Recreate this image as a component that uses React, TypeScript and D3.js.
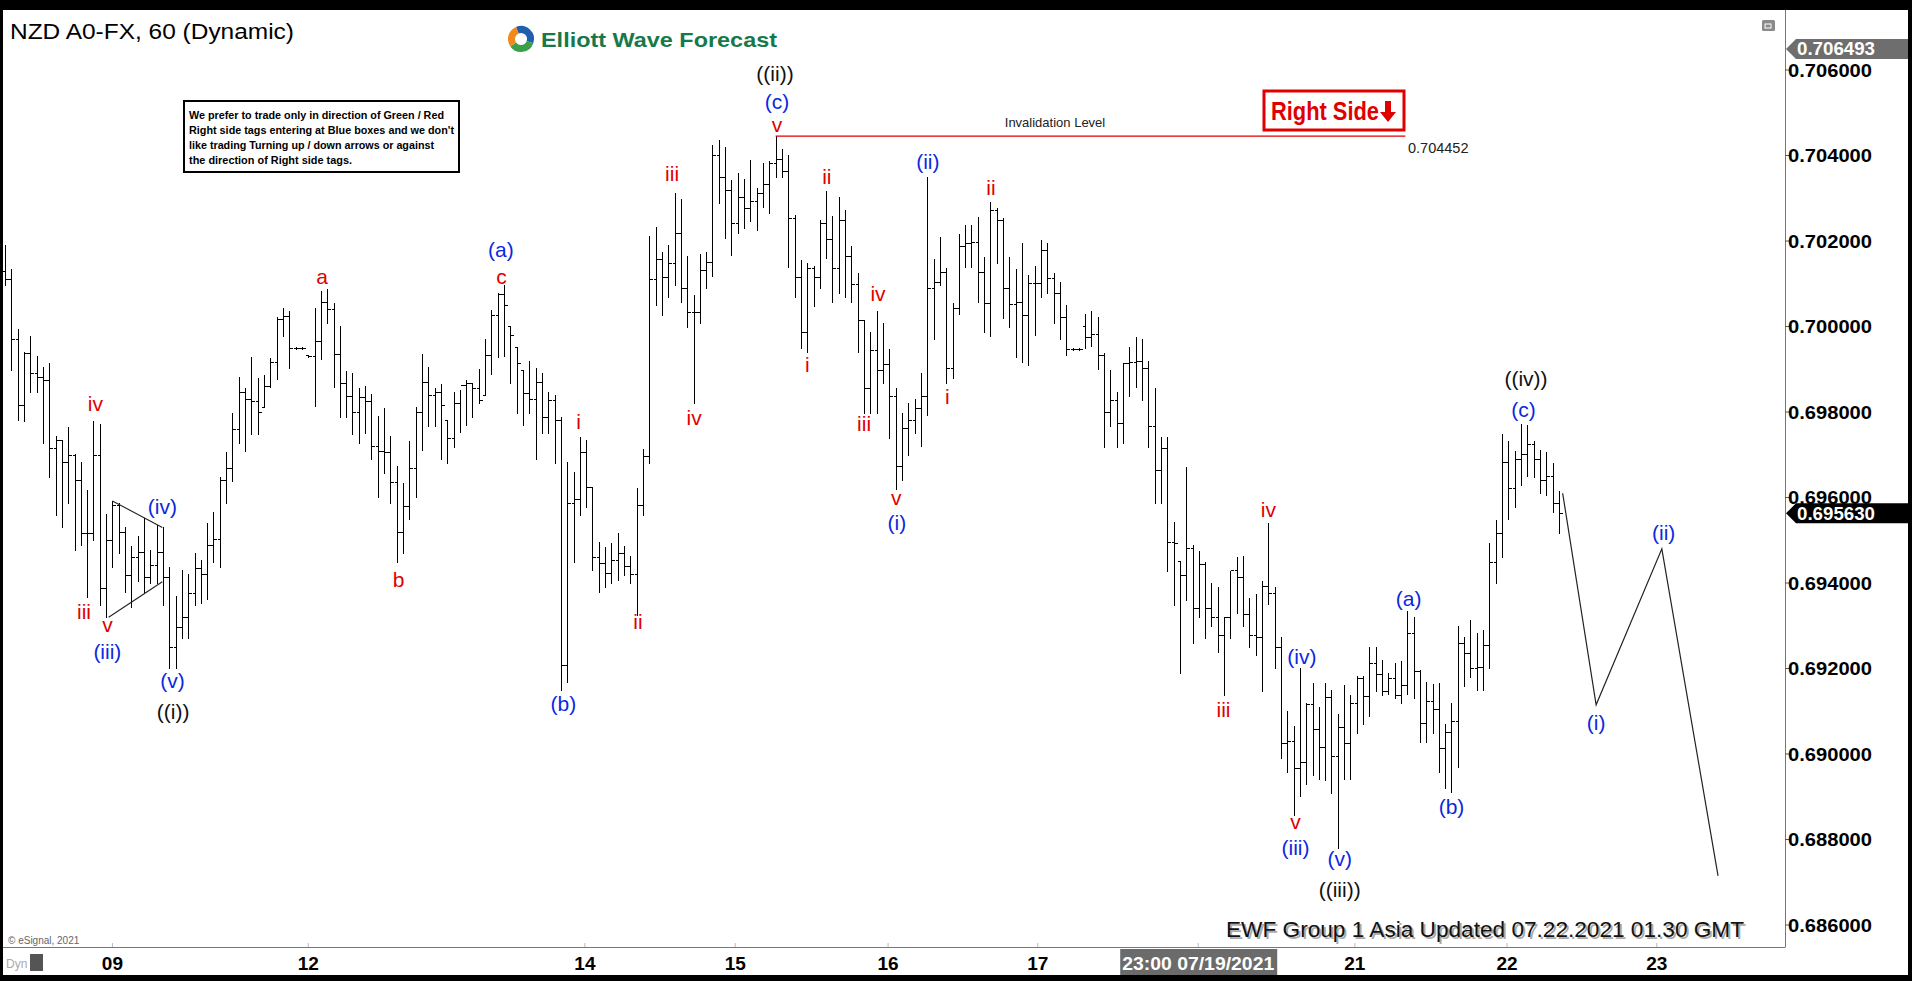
import React, { useEffect, useRef } from 'react';
import * as d3 from 'd3';

// hourly OHLC bars, NZDUSD
const highs = [
  0.70191, 0.70135, 0.69994, 0.69940, 0.69978, 0.69931, 0.69905, 0.69915, 0.69744, 0.69734,
  0.69765, 0.69702, 0.69683, 0.69618, 0.69779, 0.69772, 0.69561, 0.69592, 0.69587, 0.69531,
  0.69487, 0.69510, 0.69552, 0.69477, 0.69536, 0.69531, 0.69437, 0.69370, 0.69430, 0.69421,
  0.69470, 0.69454, 0.69540, 0.69566, 0.69648, 0.69707, 0.69798, 0.69882, 0.69856, 0.69929,
  0.69880, 0.69887, 0.69926, 0.70022, 0.70043, 0.70036, 0.69953, 0.69953, 0.69934, 0.70043,
  0.70083, 0.70088, 0.70055, 0.70001, 0.69896, 0.69891, 0.69856, 0.69861, 0.69842, 0.69791,
  0.69809, 0.69744, 0.69674, 0.69634, 0.69732, 0.69812, 0.69936, 0.69905, 0.69856, 0.69866,
  0.69781, 0.69847, 0.69851, 0.69875, 0.69868, 0.69901, 0.69971, 0.70039, 0.70078, 0.70097,
  0.70001, 0.69952, 0.69898, 0.69919, 0.69903, 0.69891, 0.69847, 0.69840, 0.69788, 0.69683,
  0.69660, 0.69742, 0.69734, 0.69625, 0.69496, 0.69484, 0.69494, 0.69517, 0.69487, 0.69463,
  0.69622, 0.69714, 0.70212, 0.70233, 0.70174, 0.70191, 0.70312, 0.70298, 0.70165, 0.70074,
  0.70170, 0.70174, 0.70425, 0.70436, 0.70420, 0.70343, 0.70359, 0.70345, 0.70390, 0.70324,
  0.70382, 0.70387, 0.70446, 0.70415, 0.70401, 0.70261, 0.70156, 0.70149, 0.70142, 0.70249,
  0.70317, 0.70259, 0.70303, 0.70273, 0.70188, 0.70125, 0.70015, 0.69987, 0.70036, 0.70008,
  0.69947, 0.69856, 0.69798, 0.69821, 0.69830, 0.69891, 0.70350, 0.70158, 0.70209, 0.70137,
  0.70055, 0.70216, 0.70237, 0.70237, 0.70256, 0.70163, 0.70291, 0.70277, 0.70254, 0.70163,
  0.70135, 0.70195, 0.70121, 0.70142, 0.70202, 0.70195, 0.70125, 0.70104, 0.70050, 0.69950,
  0.69950, 0.70029, 0.70036, 0.70022, 0.69938, 0.69898, 0.69847, 0.69915, 0.69952, 0.69976,
  0.69971, 0.69919, 0.69856, 0.69742, 0.69742, 0.69543, 0.69452, 0.69671, 0.69489, 0.69475,
  0.69449, 0.69400, 0.69391, 0.69321, 0.69428, 0.69461, 0.69463, 0.69365, 0.69374, 0.69405,
  0.69540, 0.69391, 0.69274, 0.69101, 0.69066, 0.69201, 0.69119, 0.69166, 0.69110, 0.69166,
  0.69150, 0.69094, 0.69162, 0.69138, 0.69183, 0.69183, 0.69250, 0.69250, 0.69220, 0.69190,
  0.69213, 0.69218, 0.69335, 0.69321, 0.69197, 0.69169, 0.69164, 0.69166, 0.69070, 0.69119,
  0.69300, 0.69274, 0.69314, 0.69283, 0.69290, 0.69494, 0.69547, 0.69749, 0.69732, 0.69709,
  0.69772, 0.69770, 0.69732, 0.69711, 0.69707, 0.69681, 0.69615,
];

const lows = [
  0.70097, 0.69898, 0.69781, 0.69779, 0.69847, 0.69847, 0.69727, 0.69648, 0.69559, 0.69531,
  0.69587, 0.69477, 0.69489, 0.69367, 0.69501, 0.69349, 0.69320, 0.69437, 0.69470, 0.69379,
  0.69344, 0.69405, 0.69379, 0.69400, 0.69400, 0.69349, 0.69201, 0.69201, 0.69271, 0.69271,
  0.69349, 0.69353, 0.69363, 0.69449, 0.69437, 0.69587, 0.69639, 0.69728, 0.69709, 0.69749,
  0.69749, 0.69812, 0.69859, 0.69877, 0.69978, 0.69903, 0.69947, 0.69947, 0.69928, 0.69814,
  0.69924, 0.70008, 0.69859, 0.69788, 0.69788, 0.69749, 0.69728, 0.69751, 0.69690, 0.69601,
  0.69657, 0.69587, 0.69449, 0.69470, 0.69550, 0.69601, 0.69711, 0.69767, 0.69767, 0.69690,
  0.69681, 0.69718, 0.69753, 0.69770, 0.69788, 0.69821, 0.69840, 0.69889, 0.69929, 0.69931,
  0.69868, 0.69798, 0.69770, 0.69798, 0.69690, 0.69751, 0.69751, 0.69681, 0.69150, 0.69169,
  0.69449, 0.69559, 0.69578, 0.69430, 0.69379, 0.69391, 0.69400, 0.69407, 0.69419, 0.69400,
  0.69325, 0.69559, 0.69681, 0.70050, 0.70027, 0.70069, 0.70097, 0.70057, 0.69999, 0.69821,
  0.70008, 0.70090, 0.70118, 0.70289, 0.70207, 0.70167, 0.70219, 0.70230, 0.70247, 0.70226,
  0.70280, 0.70265, 0.70350, 0.70350, 0.70139, 0.70069, 0.69950, 0.69940, 0.70048, 0.70090,
  0.70160, 0.70057, 0.70078, 0.70069, 0.70057, 0.69940, 0.69798, 0.69798, 0.69798, 0.69868,
  0.69739, 0.69620, 0.69641, 0.69699, 0.69751, 0.69721, 0.69793, 0.69971, 0.70097, 0.69868,
  0.69880, 0.70029, 0.70139, 0.70139, 0.70057, 0.69987, 0.69978, 0.70149, 0.70020, 0.69999,
  0.69929, 0.69917, 0.69910, 0.69980, 0.70069, 0.70078, 0.70008, 0.69971, 0.69933, 0.69944,
  0.69944, 0.69950, 0.69954, 0.69901, 0.69718, 0.69767, 0.69718, 0.69728, 0.69838, 0.69859,
  0.69828, 0.69718, 0.69587, 0.69587, 0.69428, 0.69349, 0.69190, 0.69360, 0.69260, 0.69321,
  0.69271, 0.69300, 0.69239, 0.69138, 0.69271, 0.69330, 0.69300, 0.69250, 0.69232, 0.69148,
  0.69351, 0.69201, 0.68991, 0.68958, 0.68857, 0.68902, 0.68930, 0.68951, 0.68942, 0.68939,
  0.68909, 0.68780, 0.68942, 0.68942, 0.69049, 0.69070, 0.69089, 0.69148, 0.69138, 0.69140,
  0.69131, 0.69119, 0.69140, 0.69131, 0.69028, 0.69028, 0.69049, 0.68958, 0.68921, 0.68911,
  0.68970, 0.69159, 0.69180, 0.69150, 0.69150, 0.69201, 0.69400, 0.69461, 0.69550, 0.69578,
  0.69629, 0.69650, 0.69648, 0.69611, 0.69606, 0.69566, 0.69517,
];

const opens = [
  0.70130, 0.70110, 0.69971, 0.69816, 0.69938, 0.69891, 0.69882, 0.69875, 0.69716, 0.69734,
  0.69683, 0.69700, 0.69641, 0.69517, 0.69517, 0.69700, 0.69388, 0.69501, 0.69583, 0.69519,
  0.69419, 0.69461, 0.69473, 0.69414, 0.69442, 0.69473, 0.69414, 0.69250, 0.69297, 0.69321,
  0.69377, 0.69435, 0.69420, 0.69489, 0.69503, 0.69641, 0.69669, 0.69760, 0.69847, 0.69830,
  0.69826, 0.69812, 0.69861, 0.69917, 0.70018, 0.70025, 0.69950, 0.69950, 0.69934, 0.69931,
  0.69966, 0.70057, 0.70040, 0.69936, 0.69868, 0.69838, 0.69800, 0.69835, 0.69826, 0.69721,
  0.69709, 0.69707, 0.69636, 0.69519, 0.69580, 0.69669, 0.69800, 0.69870, 0.69840, 0.69847,
  0.69781, 0.69739, 0.69821, 0.69863, 0.69868, 0.69856, 0.69840, 0.69933, 0.70027, 0.70076,
  0.70001, 0.69952, 0.69898, 0.69845, 0.69830, 0.69870, 0.69788, 0.69828, 0.69781, 0.69208,
  0.69587, 0.69597, 0.69707, 0.69625, 0.69461, 0.69447, 0.69424, 0.69454, 0.69470, 0.69440,
  0.69421, 0.69583, 0.69697, 0.70111, 0.70158, 0.70116, 0.70149, 0.70219, 0.70090, 0.70034,
  0.70034, 0.70132, 0.70151, 0.70401, 0.70350, 0.70319, 0.70242, 0.70303, 0.70277, 0.70294,
  0.70312, 0.70333, 0.70382, 0.70392, 0.70364, 0.70254, 0.70116, 0.69987, 0.70137, 0.70116,
  0.70242, 0.70205, 0.70137, 0.70249, 0.70165, 0.70099, 0.70015, 0.69856, 0.69945, 0.69898,
  0.69912, 0.69837, 0.69674, 0.69763, 0.69781, 0.69809, 0.69837, 0.70090, 0.70104, 0.70128,
  0.69903, 0.70043, 0.70188, 0.70195, 0.70198, 0.70128, 0.70055, 0.70273, 0.70249, 0.70090,
  0.70053, 0.70057, 0.70027, 0.70102, 0.70102, 0.70179, 0.70113, 0.70078, 0.70022, 0.69947,
  0.69947, 0.70001, 0.69976, 0.69982, 0.69933, 0.69800, 0.69828, 0.69774, 0.69915, 0.69917,
  0.69919, 0.69903, 0.69767, 0.69664, 0.69716, 0.69496, 0.69452, 0.69419, 0.69482, 0.69342,
  0.69445, 0.69342, 0.69321, 0.69278, 0.69321, 0.69431, 0.69414, 0.69328, 0.69278, 0.69274,
  0.69393, 0.69377, 0.69250, 0.69026, 0.69030, 0.68967, 0.68981, 0.69117, 0.69059, 0.69016,
  0.69133, 0.68995, 0.69063, 0.69026, 0.69119, 0.69178, 0.69136, 0.69213, 0.69187, 0.69147,
  0.69178, 0.69138, 0.69161, 0.69283, 0.69194, 0.69073, 0.69124, 0.69105, 0.69014, 0.69052,
  0.69077, 0.69260, 0.69236, 0.69201, 0.69204, 0.69255, 0.69449, 0.69517, 0.69683, 0.69622,
  0.69690, 0.69702, 0.69725, 0.69690, 0.69641, 0.69650, 0.69587,
];

const closes = [
  0.70110, 0.69971, 0.69816, 0.69938, 0.69891, 0.69882, 0.69875, 0.69716, 0.69734, 0.69683,
  0.69700, 0.69641, 0.69517, 0.69517, 0.69700, 0.69388, 0.69501, 0.69583, 0.69519, 0.69419,
  0.69461, 0.69473, 0.69414, 0.69442, 0.69473, 0.69414, 0.69250, 0.69297, 0.69321, 0.69377,
  0.69435, 0.69420, 0.69489, 0.69503, 0.69641, 0.69669, 0.69760, 0.69847, 0.69830, 0.69826,
  0.69800, 0.69861, 0.69917, 0.70018, 0.70025, 0.69950, 0.69950, 0.69950, 0.69931, 0.69966,
  0.70057, 0.70040, 0.69936, 0.69868, 0.69838, 0.69800, 0.69835, 0.69826, 0.69721, 0.69709,
  0.69707, 0.69636, 0.69519, 0.69580, 0.69669, 0.69800, 0.69870, 0.69840, 0.69847, 0.69816,
  0.69739, 0.69821, 0.69863, 0.69868, 0.69856, 0.69828, 0.69933, 0.70027, 0.70076, 0.70050,
  0.69980, 0.69915, 0.69845, 0.69830, 0.69870, 0.69788, 0.69828, 0.69781, 0.69208, 0.69587,
  0.69597, 0.69707, 0.69625, 0.69461, 0.69447, 0.69424, 0.69454, 0.69470, 0.69440, 0.69421,
  0.69583, 0.69697, 0.70111, 0.70158, 0.70116, 0.70149, 0.70219, 0.70090, 0.70034, 0.70034,
  0.70132, 0.70151, 0.70401, 0.70350, 0.70319, 0.70242, 0.70303, 0.70277, 0.70294, 0.70312,
  0.70333, 0.70382, 0.70392, 0.70364, 0.70254, 0.70116, 0.69987, 0.70137, 0.70116, 0.70242,
  0.70205, 0.70137, 0.70249, 0.70165, 0.70099, 0.70015, 0.69856, 0.69945, 0.69898, 0.69912,
  0.69837, 0.69674, 0.69763, 0.69781, 0.69809, 0.69837, 0.70090, 0.70104, 0.70128, 0.69903,
  0.70043, 0.70188, 0.70195, 0.70198, 0.70128, 0.70055, 0.70273, 0.70249, 0.70090, 0.70053,
  0.70057, 0.70027, 0.70102, 0.70102, 0.70179, 0.70113, 0.70078, 0.70022, 0.69947, 0.69947,
  0.69947, 0.69976, 0.69982, 0.69933, 0.69800, 0.69828, 0.69774, 0.69915, 0.69917, 0.69919,
  0.69903, 0.69767, 0.69664, 0.69716, 0.69496, 0.69494, 0.69419, 0.69482, 0.69342, 0.69445,
  0.69342, 0.69321, 0.69278, 0.69321, 0.69431, 0.69414, 0.69328, 0.69278, 0.69274, 0.69393,
  0.69377, 0.69250, 0.69026, 0.69030, 0.68967, 0.68981, 0.69117, 0.69059, 0.69016, 0.69133,
  0.68995, 0.69063, 0.69026, 0.69119, 0.69178, 0.69136, 0.69213, 0.69187, 0.69147, 0.69178,
  0.69138, 0.69161, 0.69283, 0.69194, 0.69073, 0.69124, 0.69105, 0.69014, 0.69052, 0.69077,
  0.69260, 0.69236, 0.69201, 0.69204, 0.69255, 0.69449, 0.69517, 0.69683, 0.69622, 0.69690,
  0.69702, 0.69725, 0.69690, 0.69641, 0.69650, 0.69587, 0.69563,
];

// date labels on the bar index axis
const dateTicks = [
  { i: 17, label: '09' },
  { i: 48, label: '12' },
  { i: 91.8, label: '14' },
  { i: 115.6, label: '15' },
  { i: 139.8, label: '16' },
  { i: 163.5, label: '17' },
  { i: 188.9, label: '23:00 07/19/2021', boxed: true },
  { i: 213.7, label: '21' },
  { i: 237.8, label: '22' },
  { i: 261.5, label: '23' },
];

const priceTicks = [0.686, 0.688, 0.69, 0.692, 0.694, 0.696, 0.698, 0.7, 0.702, 0.704, 0.706];

const lastPrice = 0.69563;
const topPrice = 0.706493;
const invalidation = { price: 0.704452, from: 122, to: 221.7 };

// projected path after the last bar
const projIdx = [246.6, 251.9, 262.3, 271.2];
const projPrice = [0.6961, 0.69115, 0.6948, 0.68715];

// triangle lines (index, price)
const triangle = [
  [[17, 0.69592], [24.9, 0.6953]],
  [[16.4, 0.6932], [24.9, 0.69403]],
];

// wave labels: r = red, b = blue, k = black
const waveLabels: { i: number; p: number; t: string; c: string }[] = [
  { i: 14.3, p: 0.69819, t: 'iv', c: 'r' },
  { i: 12.5, p: 0.69334, t: 'iii', c: 'r' },
  { i: 16.2, p: 0.69303, t: 'v', c: 'r' },
  { i: 16.2, p: 0.6924, t: '(iii)', c: 'b' },
  { i: 24.9, p: 0.6958, t: '(iv)', c: 'b' },
  { i: 26.5, p: 0.69172, t: '(v)', c: 'b' },
  { i: 26.6, p: 0.69099, t: '((i))', c: 'k' },
  { i: 50.2, p: 0.70116, t: 'a', c: 'r' },
  { i: 62.3, p: 0.69409, t: 'b', c: 'r' },
  { i: 78.5, p: 0.70179, t: '(a)', c: 'b' },
  { i: 78.6, p: 0.70118, t: 'c', c: 'r' },
  { i: 90.8, p: 0.69777, t: 'i', c: 'r' },
  { i: 100.2, p: 0.69309, t: 'ii', c: 'r' },
  { i: 88.4, p: 0.69117, t: '(b)', c: 'b' },
  { i: 105.6, p: 0.70357, t: 'iii', c: 'r' },
  { i: 109.1, p: 0.69788, t: 'iv', c: 'r' },
  { i: 121.9, p: 0.70592, t: '((ii))', c: 'k' },
  { i: 122.2, p: 0.70527, t: '(c)', c: 'b' },
  { i: 122.2, p: 0.70472, t: 'v', c: 'r' },
  { i: 127, p: 0.6991, t: 'i', c: 'r' },
  { i: 130.1, p: 0.7035, t: 'ii', c: 'r' },
  { i: 138.2, p: 0.70078, t: 'iv', c: 'r' },
  { i: 136, p: 0.69772, t: 'iii', c: 'r' },
  { i: 141.1, p: 0.69601, t: 'v', c: 'r' },
  { i: 141.2, p: 0.69541, t: '(i)', c: 'b' },
  { i: 146.1, p: 0.70385, t: '(ii)', c: 'b' },
  { i: 149.2, p: 0.69837, t: 'i', c: 'r' },
  { i: 156.1, p: 0.70324, t: 'ii', c: 'r' },
  { i: 192.9, p: 0.69105, t: 'iii', c: 'r' },
  { i: 200, p: 0.69571, t: 'iv', c: 'r' },
  { i: 205.3, p: 0.69229, t: '(iv)', c: 'b' },
  { i: 204.3, p: 0.68843, t: 'v', c: 'r' },
  { i: 204.3, p: 0.68782, t: '(iii)', c: 'b' },
  { i: 211.3, p: 0.68756, t: '(v)', c: 'b' },
  { i: 211.3, p: 0.68682, t: '((iii))', c: 'k' },
  { i: 222.2, p: 0.69363, t: '(a)', c: 'b' },
  { i: 229, p: 0.68878, t: '(b)', c: 'b' },
  { i: 240.8, p: 0.69879, t: '((iv))', c: 'k' },
  { i: 240.4, p: 0.69806, t: '(c)', c: 'b' },
  { i: 251.9, p: 0.69073, t: '(i)', c: 'b' },
  { i: 262.6, p: 0.69519, t: '(ii)', c: 'b' },
];

const noteLines = [
  'We prefer to trade only in direction of Green / Red',
  "Right side tags entering at Blue boxes and we don't",
  'like trading Turning up / down arrows or against',
  'the direction of Right side tags.',
];

const FONT = "'Liberation Sans', Arial, sans-serif";
const RED = '#e00000';
const BLUE = '#0b28e0';

const App: React.FC = () => {
  const svgRef = useRef<SVGSVGElement>(null);

  useEffect(() => {
    if (!svgRef.current) return;
    document.body.style.margin = '0';
    document.body.style.overflow = 'hidden';

    const svg = d3.select(svgRef.current);
    svg.selectAll('*').remove();

    const W = 1912;
    const H = 981;
    const plotRight = 1785;
    const plotBottom = 947;

    const x = d3.scaleLinear().domain([-0.8, 281.8]).range([0, plotRight]);
    const y = d3.scaleLinear().domain([0.686, 0.706]).range([925, 70]);

    // frame
    svg.append('rect').attr('width', W).attr('height', H).attr('fill', '#000');
    svg.append('rect').attr('x', 3).attr('y', 10).attr('width', 1905).attr('height', 965).attr('fill', '#fff');

    svg.append('defs').append('clipPath').attr('id', 'plotClip')
      .append('rect').attr('x', 3).attr('y', 10).attr('width', plotRight - 3).attr('height', plotBottom - 10);

    // plot borders
    svg.append('line').attr('x1', plotRight + 0.5).attr('x2', plotRight + 0.5).attr('y1', 10).attr('y2', plotBottom)
      .attr('stroke', '#777').attr('stroke-width', 1);
    svg.append('line').attr('x1', 3).attr('x2', plotRight + 0.5).attr('y1', plotBottom + 0.5).attr('y2', plotBottom + 0.5)
      .attr('stroke', '#777').attr('stroke-width', 1);

    const g = svg.append('g').attr('clip-path', 'url(#plotClip)');

    // OHLC bars
    const bars = g.append('g').attr('stroke', '#000').attr('stroke-width', 1.2).attr('shape-rendering', 'crispEdges');
    highs.forEach((hi, i) => {
      const bx = Math.round(x(i)) + 0.5;
      bars.append('line').attr('x1', bx).attr('x2', bx).attr('y1', y(hi)).attr('y2', y(lows[i]) + 1);
      bars.append('line').attr('x1', bx - 3).attr('x2', bx).attr('y1', Math.round(y(opens[i])) + 0.5).attr('y2', Math.round(y(opens[i])) + 0.5);
      bars.append('line').attr('x1', bx).attr('x2', bx + 3).attr('y1', Math.round(y(closes[i])) + 0.5).attr('y2', Math.round(y(closes[i])) + 0.5);
    });

    // triangle
    triangle.forEach(seg => {
      g.append('line')
        .attr('x1', x(seg[0][0])).attr('y1', y(seg[0][1]))
        .attr('x2', x(seg[1][0])).attr('y2', y(seg[1][1]))
        .attr('stroke', '#222').attr('stroke-width', 1.1);
    });

    // projection
    const proj = projIdx.map((v, k) => [v, projPrice[k]] as [number, number]);
    g.append('path')
      .attr('d', d3.line<[number, number]>().x(d => x(d[0])).y(d => y(d[1]))(proj) || '')
      .attr('fill', 'none').attr('stroke', '#222').attr('stroke-width', 1.2);

    // invalidation level
    g.append('line')
      .attr('x1', x(invalidation.from)).attr('x2', x(invalidation.to))
      .attr('y1', y(invalidation.price)).attr('y2', y(invalidation.price))
      .attr('stroke', RED).attr('stroke-width', 1.2);
    g.append('text')
      .attr('x', 1055).attr('y', y(invalidation.price) - 9)
      .attr('text-anchor', 'middle').style('font-family', FONT).style('font-size', '13px').attr('fill', '#222')
      .text('Invalidation Level');
    g.append('text')
      .attr('x', 1408).attr('y', y(invalidation.price) + 17)
      .style('font-family', FONT).style('font-size', '14.5px').attr('fill', '#222')
      .text(invalidation.price.toFixed(6));

    // wave labels
    const colorOf: Record<string, string> = { r: RED, b: BLUE, k: '#111' };
    waveLabels.forEach(l => {
      g.append('text')
        .attr('x', x(l.i)).attr('y', y(l.p))
        .attr('text-anchor', 'middle').attr('dominant-baseline', 'central')
        .style('font-family', FONT).style('font-size', '21px')
        .attr('fill', colorOf[l.c])
        .text(l.t);
    });

    // title
    svg.append('text').attr('x', 10).attr('y', 39)
      .style('font-family', FONT).style('font-size', '22px').attr('fill', '#000')
      .attr('textLength', 284).attr('lengthAdjust', 'spacingAndGlyphs')
      .text('NZD A0-FX, 60 (Dynamic)');

    // logo
    const logo = svg.append('g').attr('transform', 'translate(521,39)');
    const arc = d3.arc<any>();
    const arcs = [
      { a0: -0.4, a1: 1.9, c: '#1f5fae' },
      { a0: 1.9, a1: 4.1, c: '#3aa04a' },
      { a0: 4.1, a1: 5.9, c: '#f08a1c' },
    ];
    arcs.forEach(a => {
      logo.append('path')
        .attr('d', arc({ innerRadius: 6, outerRadius: 13, startAngle: a.a0, endAngle: a.a1 }) || '')
        .attr('fill', a.c);
    });
    svg.append('text').attr('x', 541).attr('y', 47)
      .style('font-family', FONT).style('font-size', '21px').style('font-weight', 'bold').attr('fill', '#17794a')
      .attr('textLength', 236).attr('lengthAdjust', 'spacingAndGlyphs')
      .text('Elliott Wave Forecast');

    // note box
    svg.append('rect').attr('x', 184).attr('y', 101).attr('width', 275).attr('height', 71)
      .attr('fill', '#fff').attr('stroke', '#000').attr('stroke-width', 2);
    const noteWidths = [255, 265, 245, 163];
    noteLines.forEach((t, k) => {
      svg.append('text').attr('x', 189).attr('y', 119 + k * 15)
        .style('font-family', FONT).style('font-size', '10px').style('font-weight', 'bold').attr('fill', '#000')
        .attr('textLength', noteWidths[k]).attr('lengthAdjust', 'spacingAndGlyphs')
        .text(t);
    });

    // Right Side tag
    svg.append('rect').attr('x', 1264).attr('y', 91).attr('width', 140).attr('height', 39)
      .attr('fill', '#fff').attr('stroke', RED).attr('stroke-width', 3);
    svg.append('text').attr('x', 1271).attr('y', 120)
      .style('font-family', FONT).style('font-size', '25px').style('font-weight', 'bold').attr('fill', RED)
      .attr('textLength', 108).attr('lengthAdjust', 'spacingAndGlyphs')
      .text('Right Side');
    svg.append('path')
      .attr('d', 'M1385,101 L1391,101 L1391,112 L1396,112 L1388,122 L1380,112 L1385,112 Z')
      .attr('fill', RED);

    // restore icon
    svg.append('rect').attr('x', 1762).attr('y', 20).attr('width', 13).attr('height', 11).attr('rx', 1.5).attr('fill', '#8a8a8a');
    svg.append('rect').attr('x', 1765).attr('y', 24).attr('width', 6).attr('height', 4).attr('fill', 'none').attr('stroke', '#fff').attr('stroke-width', 1);

    // bottom texts
    svg.append('text').attr('x', 1228).attr('y', 939)
      .style('font-family', FONT).style('font-size', '22px').attr('fill', '#aaa')
      .attr('textLength', 518).attr('lengthAdjust', 'spacingAndGlyphs')
      .text('EWF Group 1 Asia Updated 07.22.2021 01.30 GMT');
    svg.append('text').attr('x', 1226).attr('y', 937)
      .style('font-family', FONT).style('font-size', '22px').attr('fill', '#111')
      .attr('textLength', 518).attr('lengthAdjust', 'spacingAndGlyphs')
      .text('EWF Group 1 Asia Updated 07.22.2021 01.30 GMT');
    svg.append('text').attr('x', 8).attr('y', 944)
      .style('font-family', FONT).style('font-size', '10px').attr('fill', '#666')
      .text('© eSignal, 2021');

    // price axis
    const axisG = svg.append('g');
    priceTicks.forEach(p => {
      axisG.append('line').attr('x1', plotRight).attr('x2', plotRight + 4).attr('y1', y(p)).attr('y2', y(p))
        .attr('stroke', '#555');
      axisG.append('text').attr('x', 1788).attr('y', y(p)).attr('dominant-baseline', 'central')
        .style('font-family', FONT).style('font-size', '19px').style('font-weight', 'bold').attr('fill', '#000')
        .attr('textLength', 84).attr('lengthAdjust', 'spacingAndGlyphs')
        .text(p.toFixed(6));
    });

    const priceTag = (p: number, fill: string) => {
      const cy = y(p);
      axisG.append('path')
        .attr('d', `M${plotRight + 1},${cy} L${plotRight + 11},${cy - 10} L1908,${cy - 10} L1908,${cy + 10} L${plotRight + 11},${cy + 10} Z`)
        .attr('fill', fill);
      axisG.append('text').attr('x', 1797).attr('y', cy).attr('dominant-baseline', 'central')
        .style('font-family', FONT).style('font-size', '19px').style('font-weight', 'bold').attr('fill', '#fff')
        .attr('textLength', 78).attr('lengthAdjust', 'spacingAndGlyphs')
        .text(p.toFixed(6));
    };
    priceTag(topPrice, '#6e6e6e');
    priceTag(lastPrice, '#000');

    // date axis
    const dateG = svg.append('g');
    dateTicks.forEach(t => {
      const tx = x(t.i);
      dateG.append('line').attr('x1', tx).attr('x2', tx).attr('y1', plotBottom - 4).attr('y2', plotBottom)
        .attr('stroke', '#bbb');
      if (t.boxed) {
        dateG.append('rect').attr('x', tx - 78).attr('y', 949).attr('width', 157).attr('height', 26).attr('fill', '#6b6b6b');
        dateG.append('text').attr('x', tx).attr('y', 970).attr('text-anchor', 'middle')
          .style('font-family', FONT).style('font-size', '19px').style('font-weight', 'bold').attr('fill', '#fff')
          .attr('textLength', 152).attr('lengthAdjust', 'spacingAndGlyphs')
          .text(t.label);
      } else {
        dateG.append('text').attr('x', tx).attr('y', 970).attr('text-anchor', 'middle')
          .style('font-family', FONT).style('font-size', '19px').style('font-weight', 'bold').attr('fill', '#000')
          .text(t.label);
      }
    });

    // Dyn marker, bottom left
    svg.append('text').attr('x', 6).attr('y', 968)
      .style('font-family', FONT).style('font-size', '12px').attr('fill', '#aaa').text('Dyn');
    svg.append('rect').attr('x', 30).attr('y', 954).attr('width', 13).attr('height', 17).attr('fill', '#555');
  }, []);

  return (
    <svg
      ref={svgRef}
      width={1912}
      height={981}
      style={{ position: 'absolute', left: 0, top: 0, display: 'block' }}
    />
  );
};

export default App;
